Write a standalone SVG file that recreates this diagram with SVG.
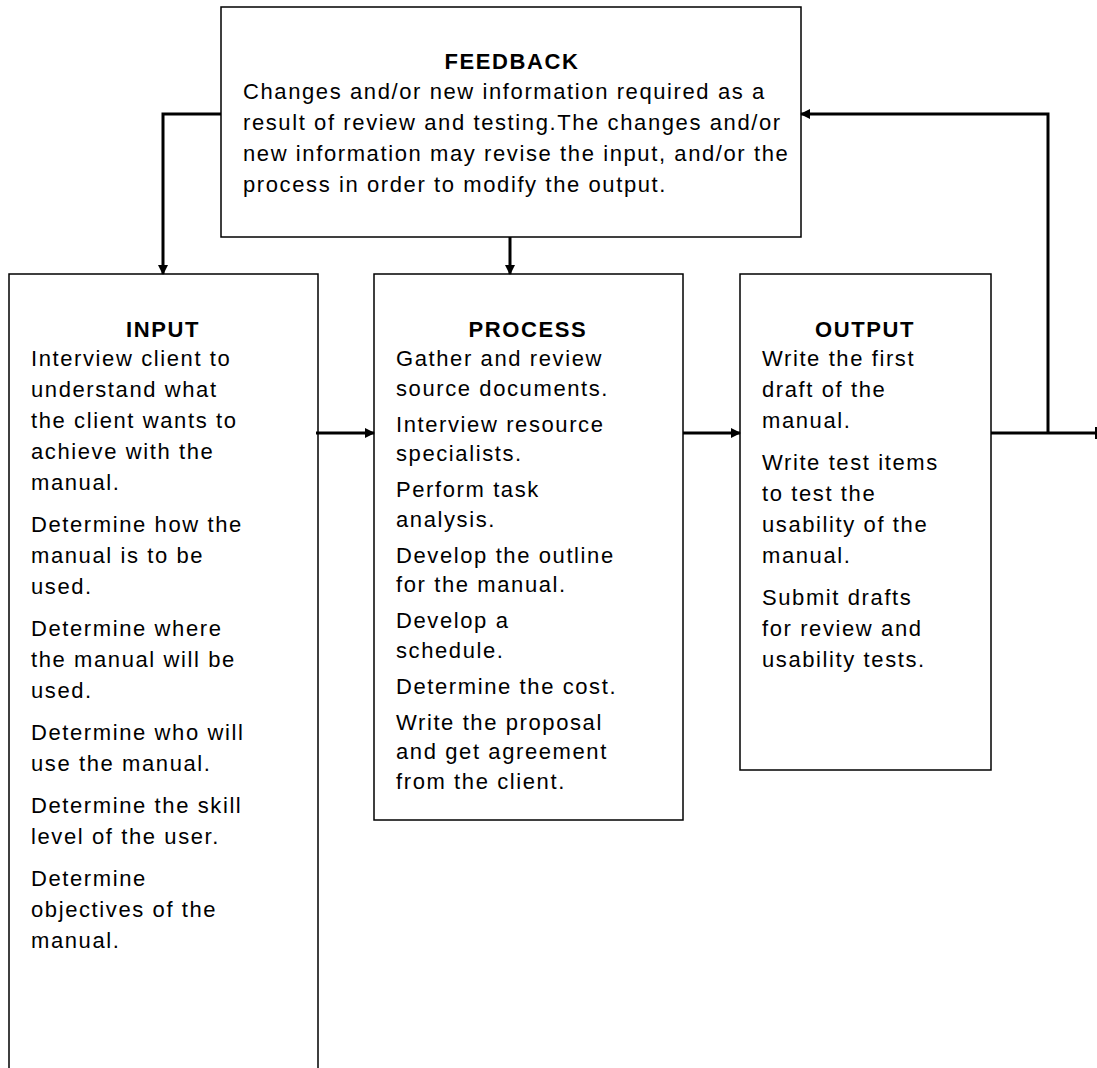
<svg xmlns="http://www.w3.org/2000/svg" width="1097" height="1068" viewBox="0 0 1097 1068">
<style>
.box{fill:#fff;stroke:#000;stroke-width:1.5}
.t{font-family:"Liberation Sans",Arial,sans-serif;font-size:22px;letter-spacing:1.6px;fill:#000}
.h{font-family:"Liberation Sans",Arial,sans-serif;font-size:22px;font-weight:bold;letter-spacing:1.6px;fill:#000;text-anchor:middle}
.c{fill:none;stroke:#000;stroke-width:3}
</style>
<defs>
<marker id="ah" markerWidth="10" markerHeight="10" refX="9" refY="5" orient="auto" markerUnits="userSpaceOnUse">
<path d="M0,0 L10,5 L0,10 z" fill="#000"/>
</marker>
</defs>
<rect width="1097" height="1068" fill="#fff"/>
<g id="feedback">
<rect class="box" x="221" y="7" width="580" height="230"/>
<text class="h" x="512" y="69">FEEDBACK</text>
<text class="t" x="243" y="99">Changes and/or new information required as a</text>
<text class="t" x="243" y="130">result of review and testing.The changes and/or</text>
<text class="t" x="243" y="161">new information may revise the input, and/or the</text>
<text class="t" x="243" y="192">process in order to modify the output.</text>
</g>
<g id="input">
<path class="box" d="M9,1070 V274 H318 V1070"/>
<text class="h" x="163" y="337">INPUT</text>
<text class="t" x="31" y="366">Interview client to</text>
<text class="t" x="31" y="397">understand what</text>
<text class="t" x="31" y="428">the client wants to</text>
<text class="t" x="31" y="459">achieve with the</text>
<text class="t" x="31" y="490">manual.</text>
<text class="t" x="31" y="532">Determine how the</text>
<text class="t" x="31" y="563">manual is to be</text>
<text class="t" x="31" y="594">used.</text>
<text class="t" x="31" y="636">Determine where</text>
<text class="t" x="31" y="667">the manual will be</text>
<text class="t" x="31" y="698">used.</text>
<text class="t" x="31" y="740">Determine who will</text>
<text class="t" x="31" y="771">use the manual.</text>
<text class="t" x="31" y="813">Determine the skill</text>
<text class="t" x="31" y="844">level of the user.</text>
<text class="t" x="31" y="886">Determine</text>
<text class="t" x="31" y="917">objectives of the</text>
<text class="t" x="31" y="948">manual.</text>
</g>
<g id="process">
<rect class="box" x="374" y="274" width="309" height="546"/>
<text class="h" x="528" y="337">PROCESS</text>
<text class="t" x="396" y="366">Gather and review</text>
<text class="t" x="396" y="395.5">source documents.</text>
<text class="t" x="396" y="431.5">Interview resource</text>
<text class="t" x="396" y="461">specialists.</text>
<text class="t" x="396" y="497">Perform task</text>
<text class="t" x="396" y="526.5">analysis.</text>
<text class="t" x="396" y="562.5">Develop the outline</text>
<text class="t" x="396" y="592">for the manual.</text>
<text class="t" x="396" y="628">Develop a</text>
<text class="t" x="396" y="657.5">schedule.</text>
<text class="t" x="396" y="693.5">Determine the cost.</text>
<text class="t" x="396" y="729.5">Write the proposal</text>
<text class="t" x="396" y="759">and get agreement</text>
<text class="t" x="396" y="788.5">from the client.</text>
</g>
<g id="output">
<rect class="box" x="740" y="274" width="251" height="496"/>
<text class="h" x="865" y="337">OUTPUT</text>
<text class="t" x="762" y="366">Write the first</text>
<text class="t" x="762" y="397">draft of the</text>
<text class="t" x="762" y="428">manual.</text>
<text class="t" x="762" y="470">Write test items</text>
<text class="t" x="762" y="501">to test the</text>
<text class="t" x="762" y="532">usability of the</text>
<text class="t" x="762" y="563">manual.</text>
<text class="t" x="762" y="605">Submit drafts</text>
<text class="t" x="762" y="636">for review and</text>
<text class="t" x="762" y="667">usability tests.</text>
</g>
<g id="connectors">
<path class="c" d="M221,114 H163 V274" marker-end="url(#ah)"/>
<path class="c" d="M510,237 V274" marker-end="url(#ah)"/>
<path class="c" d="M316,433 H374" marker-end="url(#ah)"/>
<path class="c" d="M683,433 H740" marker-end="url(#ah)"/>
<path class="c" d="M991,433 H1096"/>
<path class="c" d="M1048,433 V114 H801" marker-end="url(#ah)"/>
<path d="M1096,427 V439" stroke="#000" stroke-width="2"/>
</g>
</svg>
